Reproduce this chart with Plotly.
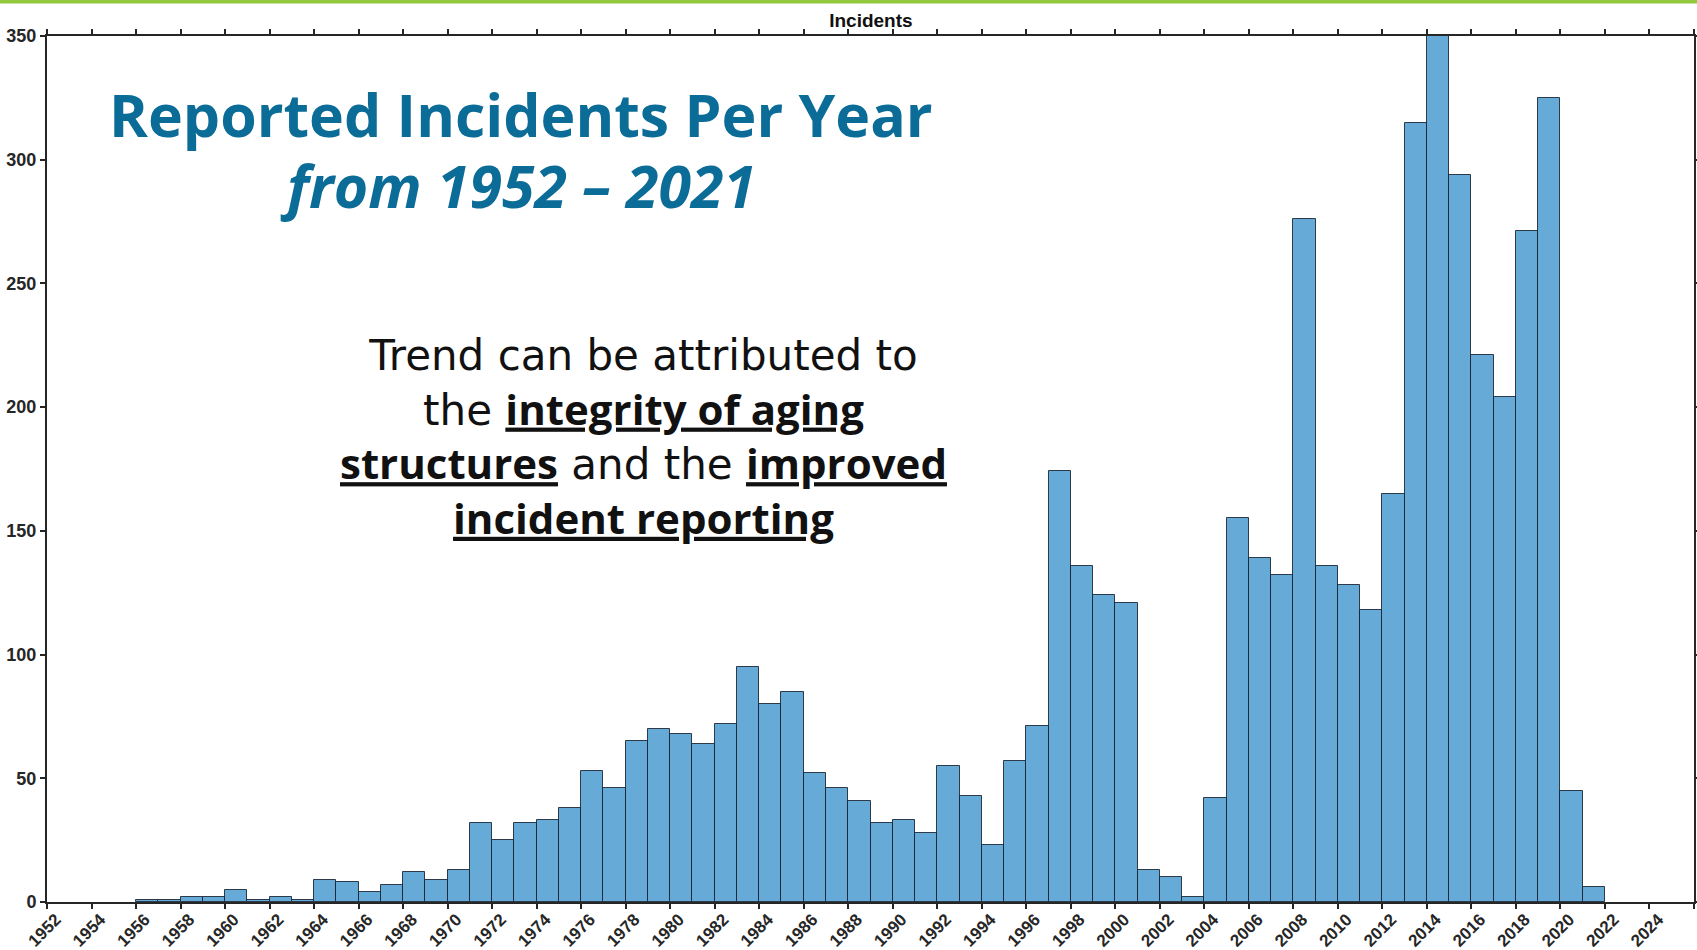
import plotly.graph_objects as go

# Yearly incident counts, 1956-2021 (no reports in 1952-1955)
years = list(range(1956, 2022))
incidents = [
    1, 1, 2, 2, 5, 1, 2, 1, 9, 8,          # 1956-1965
    4, 7, 12, 9, 13, 32, 25, 32, 33, 38,   # 1966-1975
    53, 46, 65, 70, 68, 64, 72, 95, 80, 85,  # 1976-1985
    52, 46, 41, 32, 33, 28, 55, 43, 23, 57,  # 1986-1995
    71, 174, 136, 124, 121, 13, 10, 2, 42, 155,  # 1996-2005
    139, 132, 276, 136, 128, 118, 165, 315, 350, 294,  # 2006-2015
    221, 204, 271, 325, 45, 6,             # 2016-2021
]

x_ticks = list(range(1952, 2027, 2))
y_ticks = list(range(0, 351, 50))

heading_lines = ["Reported Incidents Per Year", "from 1952 – 2021"]

# Emphasised phrases use a heavier, narrower face than the body text
emph = '<span style="font-family:Open Sans"><b><u>{}</u></b></span>'
note_lines = [
    "Trend can be attributed to",
    "the " + emph.format("integrity of aging"),
    emph.format("structures") + " and the " + emph.format("improved"),
    emph.format("incident reporting"),
]

axis_color = "#262626"
sans = "Liberation Sans, Arial, sans-serif"

fig = go.Figure()
fig.add_trace(go.Bar(
    x=years,
    y=incidents,
    width=1,
    offset=0,
    marker=dict(color="#66AAD7", line=dict(color="rgba(20,30,45,0.85)", width=1)),
    showlegend=False,
))

fig.update_layout(
    width=1697,
    height=950,
    margin=dict(l=47, r=3, t=36, b=48, autoexpand=False),
    paper_bgcolor="white",
    plot_bgcolor="white",
    bargap=0,
    title=dict(
        text="<b>Incidents</b>",
        x=0.5132, xanchor="center",
        y=0.979, yanchor="middle",
        font=dict(family=sans, size=19, color="#111111"),
    ),
    xaxis=dict(
        range=[1952, 2026],
        tickmode="array", tickvals=x_ticks,
        ticktext=[f"<b>{t}</b>" for t in x_ticks],
        tickangle=-45,
        tickfont=dict(family=sans, size=17, color=axis_color),
        ticklabelshift=9,
        ticklabelstandoff=-6,
        ticks="outside", ticklen=5, tickwidth=1.5, tickcolor=axis_color,
        showline=True, linecolor=axis_color, linewidth=2, mirror="ticks",
        showgrid=False, zeroline=False, fixedrange=True, automargin=False,
    ),
    yaxis=dict(
        range=[0, 350],
        tickmode="array", tickvals=y_ticks,
        ticktext=[f"<b>{t}</b>" for t in y_ticks],
        tickfont=dict(family=sans, size=18, color=axis_color),
        ticks="outside", ticklen=5, tickwidth=1.5, tickcolor=axis_color,
        showline=True, linecolor=axis_color, linewidth=2, mirror="ticks",
        showgrid=False, zeroline=False, fixedrange=True, automargin=False,
    ),
)

# Green accent strip along the top edge of the slide
fig.add_shape(
    type="rect", xref="paper", yref="paper",
    x0=-0.03, x1=1.01, y0=1.0375, y1=1.046,
    fillcolor="#92C83E", line=dict(width=0), layer="above",
)

# Slide heading, one annotation per line
heading_y = [0.910, 0.828]
heading_x = [0.2876, 0.286]
heading_fmt = ["<b>{}</b>", "<b><i>{}</i></b>"]
for line, fmt, hx, hy in zip(heading_lines, heading_fmt, heading_x, heading_y):
    fig.add_annotation(
        xref="paper", yref="paper", x=hx, y=hy,
        xanchor="center", yanchor="middle", showarrow=False,
        text=fmt.format(line),
        font=dict(family="Open Sans, sans-serif", size=59, color="#0B6C97"),
    )

# Explanatory note
fig.add_annotation(
    xref="paper", yref="paper", x=0.362, y=0.535,
    xanchor="center", yanchor="middle", align="center", showarrow=False,
    text="<br>".join(note_lines),
    font=dict(family="DejaVu Sans, sans-serif", size=42, color="#111111"),
)

fig.write_html("out.html")
